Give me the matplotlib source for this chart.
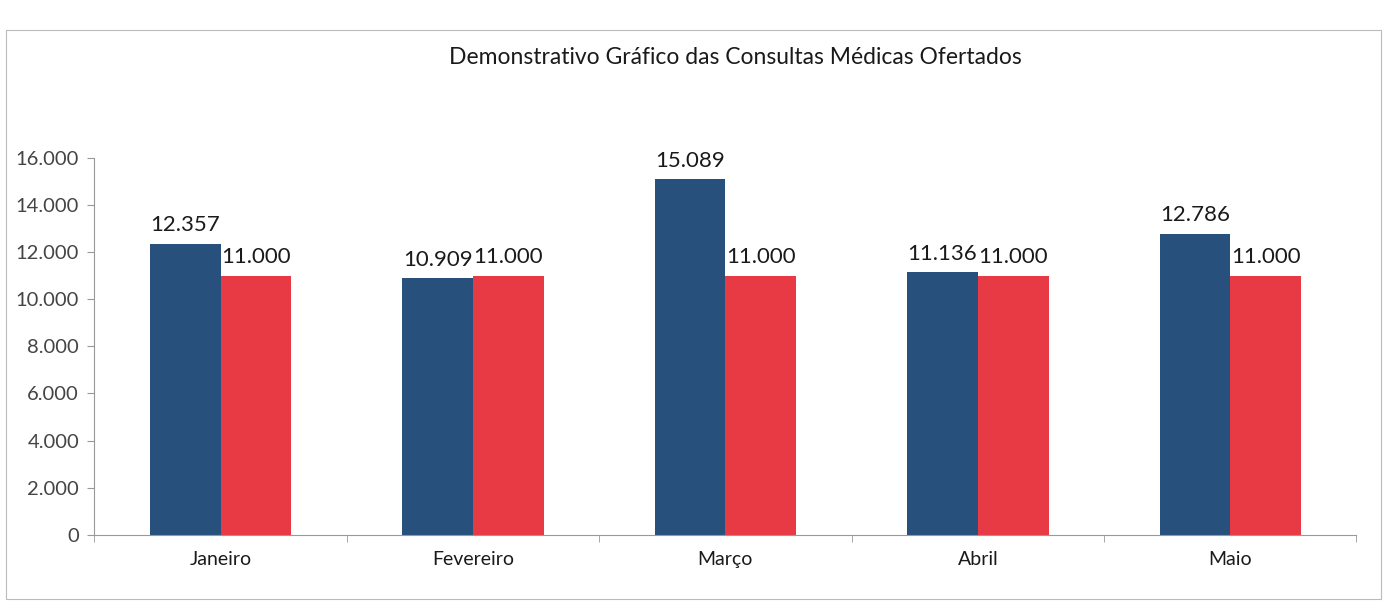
from matplotlib import pyplot
from matplotlib.patches import Rectangle
from numpy import arange

meses = ["Janeiro", "Fevereiro", "Março", "Abril", "Maio"]
realizadas = [12357, 10909, 15089, 11136, 12786]
ofertadas = [11000, 11000, 11000, 11000, 11000]
y_ticks = [0, 2000, 4000, 6000, 8000, 10000, 12000, 14000, 16000]


def fmt(v):
    return f"{v:,}".replace(",", ".")


pyplot.rcParams["font.family"] = ["Lato", "DejaVu Sans"]

fig = pyplot.figure(figsize=(13.87, 6.05), dpi=100)
ax = fig.add_axes([0.068, 0.116, 0.910, 0.623])

x = arange(len(meses))
w = 0.28
b1 = ax.bar(x - w / 2, realizadas, width=w, color="#27507c")
b2 = ax.bar(x + w / 2, ofertadas, width=w, color="#e83a44")

for bars, vals in ((b1, realizadas), (b2, ofertadas)):
    for bar, v in zip(bars, vals):
        ax.text(
            bar.get_x() + bar.get_width() / 2,
            v + 350,
            fmt(v),
            ha="center",
            va="bottom",
            fontsize=16,
            color="#1a1a1a",
        )

ax.set_xlim(-0.5, len(meses) - 0.5)
ax.set_ylim(0, 16000)
ax.set_yticks(y_ticks)
ax.set_yticklabels([fmt(t) for t in y_ticks], fontsize=14.5, color="#444444")
ax.set_xticks(x)
ax.set_xticklabels(meses, fontsize=14, color="#1a1a1a")
ax.set_xticks(arange(-0.5, len(meses)), minor=True)
ax.tick_params(axis="x", which="major", length=0, pad=12)
ax.tick_params(axis="x", which="minor", length=5, color="#999999")
ax.tick_params(axis="y", length=5, color="#999999", pad=6)

for side in ("top", "right"):
    ax.spines[side].set_visible(False)
for side in ("left", "bottom"):
    ax.spines[side].set_color("#999999")
    ax.spines[side].set_linewidth(0.8)

fig.text(
    0.53, 0.905,
    "Demonstrativo Gráfico das Consultas Médicas Ofertados",
    ha="center",
    va="center",
    fontsize=16.5,
    color="#1a1a1a",
)

fig.patches.append(
    Rectangle(
        (0.004, 0.01), 0.992, 0.94,
        transform=fig.transFigure,
        fill=False,
        edgecolor="#bbbbbb",
        linewidth=0.8,
    )
)

pyplot.savefig("out.png", dpi=100)
